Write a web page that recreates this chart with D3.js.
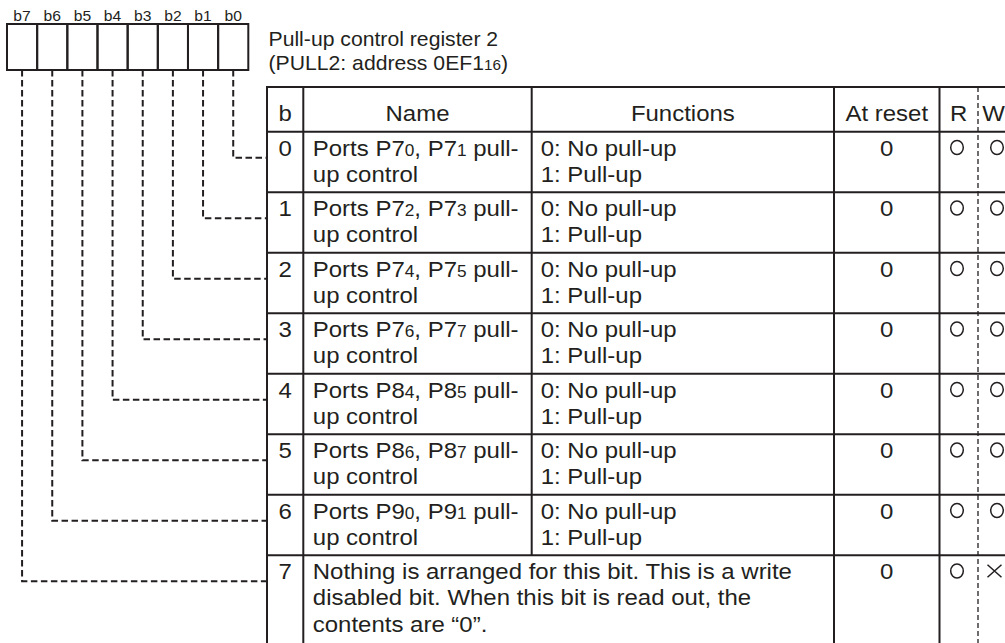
<!DOCTYPE html>
<html><head><meta charset="utf-8">
<script src="https://cdn.jsdelivr.net/npm/d3@7"></script>
<style>
html,body{margin:0;padding:0;background:#fff;}
svg{display:block;}
text{font-family:"Liberation Sans",Arial,Helvetica,sans-serif;fill:#231f20;}
</style></head>
<body>
<svg id="c" width="1005" height="643"></svg>
<script>
// ---- data ----
const registerBits = ["b7","b6","b5","b4","b3","b2","b1","b0"];
const titleLines = ["Pull-up control register 2", "(PULL2: address 0EF1{16})"];
const headers = ["b","Name","Functions","At reset","R","W"];
const bitNumbers = [0,1,2,3,4,5,6,7];
const names = [
  ["Ports P7{0}, P7{1} pull-","up control"],
  ["Ports P7{2}, P7{3} pull-","up control"],
  ["Ports P7{4}, P7{5} pull-","up control"],
  ["Ports P7{6}, P7{7} pull-","up control"],
  ["Ports P8{4}, P8{5} pull-","up control"],
  ["Ports P8{6}, P8{7} pull-","up control"],
  ["Ports P9{0}, P9{1} pull-","up control"],
  ["Nothing is arranged for this bit. This is a write","disabled bit. When this bit is read out, the","contents are \u201c0\u201d."]
];
const functions = [
  ["0: No pull-up","1: Pull-up"],
  ["0: No pull-up","1: Pull-up"],
  ["0: No pull-up","1: Pull-up"],
  ["0: No pull-up","1: Pull-up"],
  ["0: No pull-up","1: Pull-up"],
  ["0: No pull-up","1: Pull-up"],
  ["0: No pull-up","1: Pull-up"],
  []
];
const atReset = ["0","0","0","0","0","0","0","0"];
const readable = ["O","O","O","O","O","O","O","O"];
const writable = ["O","O","O","O","O","O","O","X"];

// ---- layout ----
const INK = "#231f20";
const SX = 1.09;
const svg = d3.select("#c");

// register box
const bx = d3.scaleBand().domain(registerBits).range([7, 248.3]);
const boxTop = 24, boxBot = 70;

// table
const colEdges = [267, 303.3, 531.7, 834, 939.5, 978, 1030];
const headTop = 87;
const row = d3.scaleLinear().domain([0, 8]).range([131.7, 131.7 + 60.5 * 8]);

function addText(g, x, y, str, size, anchor, sx) {
  const t = g.append("text")
    .attr("transform", `translate(${x},${y}) scale(${sx || SX},1)`)
    .attr("text-anchor", anchor || "start")
    .attr("font-size", size);
  const parts = str.split(/(\{[^}]*\})/).filter(s => s.length);
  parts.forEach(p => {
    if (p[0] === "{") t.append("tspan").attr("font-size", size * 0.72).text(p.slice(1, -1));
    else t.append("tspan").text(p);
  });
  return t;
}

// register labels
const gReg = svg.append("g");
registerBits.forEach(b => addText(gReg, bx(b) + bx.bandwidth() / 2, 20.5, b, 14.5, "middle", 1.08));
gReg.selectAll("rect.cell").data(registerBits).join("rect")
  .attr("x", d => bx(d)).attr("y", boxTop)
  .attr("width", bx.bandwidth()).attr("height", boxBot - boxTop)
  .attr("fill", "none").attr("stroke", INK).attr("stroke-width", 2);

// title
const gT = svg.append("g");
titleLines.forEach((l, i) => addText(gT, 268.5, 46 + i * 23.5, l, 20, "start", 1.06));

// connectors
const gCon = svg.append("g");
registerBits.forEach((b, k) => {
  const bit = 7 - k;
  const x = bx(b) + bx.bandwidth() / 2;
  const y = row(bit) + 26;
  gCon.append("path")
    .attr("d", d3.line()([[x, boxBot], [x, y], [colEdges[0], y]]))
    .attr("fill", "none").attr("stroke", INK).attr("stroke-width", 2)
    .attr("stroke-dasharray", "6.5,3.5");
});

// table grid
const gTab = svg.append("g");
const tableBottom = 700;
const hLines = [headTop].concat(d3.range(0, 8).map(i => row(i)));
gTab.selectAll("line.h").data(hLines).join("line")
  .attr("x1", colEdges[0]).attr("x2", 1010)
  .attr("y1", d => d).attr("y2", d => d)
  .attr("stroke", INK).attr("stroke-width", 2);
[0, 1, 3, 4].forEach(ci => {
  gTab.append("line").attr("x1", colEdges[ci]).attr("x2", colEdges[ci])
    .attr("y1", headTop - 1).attr("y2", tableBottom)
    .attr("stroke", INK).attr("stroke-width", 2);
});
gTab.append("line").attr("x1", colEdges[2]).attr("x2", colEdges[2])
  .attr("y1", headTop - 1).attr("y2", row(7))
  .attr("stroke", INK).attr("stroke-width", 2);
gTab.append("line").attr("x1", colEdges[5]).attr("x2", colEdges[5])
  .attr("y1", headTop).attr("y2", tableBottom)
  .attr("stroke", INK).attr("stroke-width", 1.3).attr("stroke-dasharray", "5,3");

// headers
const hb = 120.7;
const centers = [
  (colEdges[0] + colEdges[1]) / 2,
  (colEdges[1] + colEdges[2]) / 2,
  (colEdges[2] + colEdges[3]) / 2,
  (colEdges[3] + colEdges[4]) / 2,
  (colEdges[4] + colEdges[5]) / 2,
  993.5
];
headers.forEach((h, i) => addText(gTab, centers[i], hb, h, 22, "middle"));

// rows
const LH = 26.2;
bitNumbers.forEach((b, i) => {
  const top = row(i);
  const base = top + 24;
  addText(gTab, centers[0], base, String(b), 22, "middle");
  names[i].forEach((l, j) => addText(gTab, colEdges[1] + 9.5, base + j * LH, l, 22, "start"));
  functions[i].forEach((l, j) => addText(gTab, colEdges[2] + 9, base + j * LH, l, 22, "start"));
  addText(gTab, centers[3], base, atReset[i], 22, "middle");
  const cy = top + 15.8;
  [[readable[i], 957], [writable[i], 997]].forEach(([v, cx]) => {
    if (v === "O") {
      gTab.append("ellipse").attr("cx", cx).attr("cy", cy).attr("rx", 6.3).attr("ry", 7)
        .attr("fill", "none").attr("stroke", INK).attr("stroke-width", 1.5);
    } else {
      const xc = cx - 2.5, sw = 7, sh = 6.3;
      gTab.append("path")
        .attr("d", `M${xc - sw},${cy - sh}L${xc + sw},${cy + sh}M${xc + sw},${cy - sh}L${xc - sw},${cy + sh}`)
        .attr("stroke", INK).attr("stroke-width", 1.5).attr("fill", "none");
    }
  });
});
</script>
</body></html>
